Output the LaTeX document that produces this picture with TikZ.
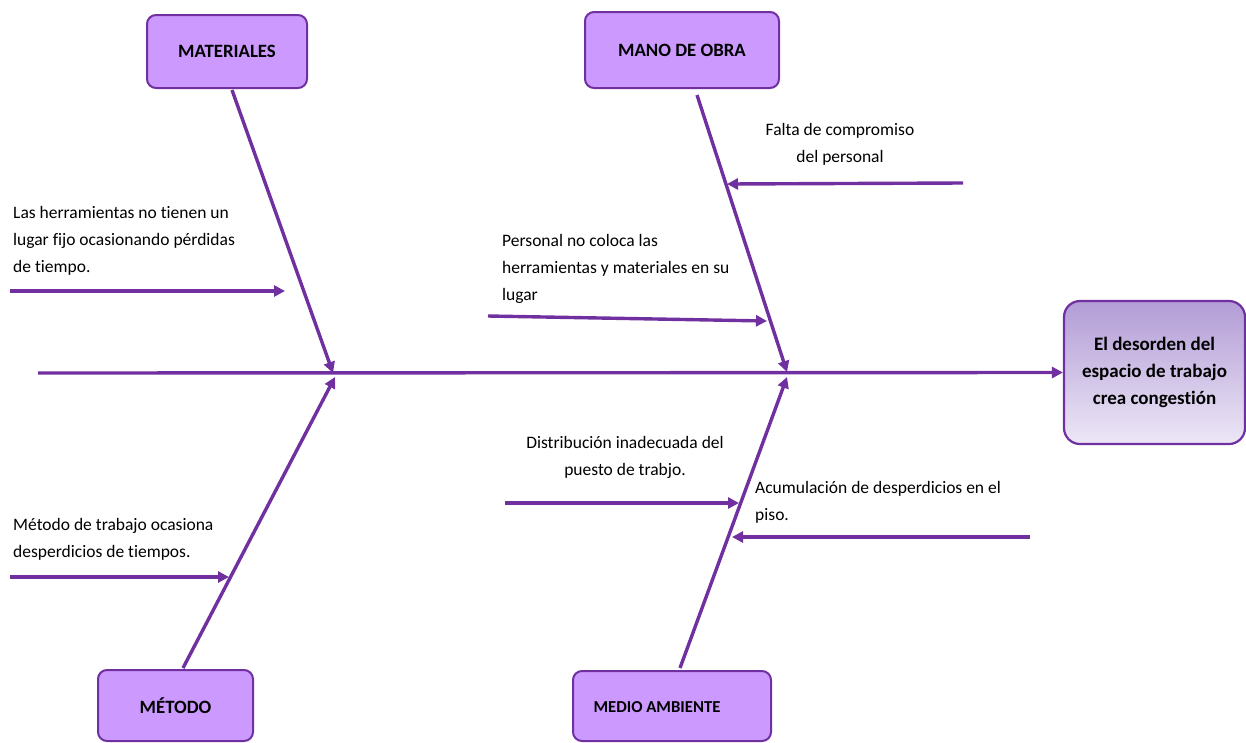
\documentclass[tikz,border=0pt]{standalone}
\usepackage{fontspec}
\setmainfont[Ligatures=NoCommon]{Carlito}
\usetikzlibrary{arrows.meta}
\definecolor{fishpurple}{HTML}{7030A0}
\definecolor{catfill}{HTML}{CC99FF}
\definecolor{efftop}{RGB}{178,156,214}
\definecolor{effbottom}{RGB}{237,231,246}
\begin{document}
\begin{tikzpicture}[x=1pt,y=-1pt,
  boneline/.style={draw=fishpurple,line width=3.4pt,-{Triangle[length=11pt,width=11pt]}},
  catbox/.style={draw=fishpurple,line width=2pt,fill=catfill,rounded corners=9pt,
    font=\fontsize{18.8}{22}\selectfont\bfseries,inner sep=0pt},
  effbox/.style={draw=fishpurple,line width=2.2pt,rounded corners=16pt,
    top color=efftop,bottom color=effbottom,
    font=\fontsize{19}{27}\selectfont\bfseries,align=center,inner sep=0pt},
  causetext/.style={font=\fontsize{17.5}{27}\selectfont,inner sep=0pt}]
\useasboundingbox (0,0) rectangle (1246,742);

% category boxes
\node[catbox,minimum width=160pt,minimum height=73pt] (mat) at (227,51.5) {MATERIALES};
\node[catbox,minimum width=194pt,minimum height=76pt] (mano) at (682,50) {MANO DE OBRA};
\node[catbox,minimum width=155pt,minimum height=71pt] (met) at (175.5,705.5) {MÉTODO};
\node[catbox,minimum width=198pt,minimum height=70pt] (medio) at (672,706) {};
\node[font=\fontsize{16.7}{20}\selectfont\bfseries,inner sep=0pt] (medioLbl) at (657,707) {MEDIO AMBIENTE};

% effect
\node[effbox,minimum width=181pt,minimum height=143pt] (eff) at (1154.5,372.5)
  {El desorden del\\espacio de trabajo\\crea congestión};

% spine
\coordinate (tail) at (38,373);
\draw[boneline] (tail) -- (eff.west);

% main bones
\coordinate (matS) at (232,90);   \coordinate (matJ) at (333,373);
\coordinate (manoS) at (697,95);  \coordinate (manoJ) at (787,372);
\coordinate (metS) at (183,668);  \coordinate (metJ) at (335,377);
\coordinate (medS) at (680,668);  \coordinate (medJ) at (787,377);
\draw[boneline] (matS) -- (matJ);
\draw[boneline] (manoS) -- (manoJ);
\draw[boneline] (metS) -- (metJ);
\draw[boneline] (medS) -- (medJ);

% causes: MATERIALES
\node[causetext,anchor=north west,align=left] (c1) at (13,206)
  {Las herramientas no tienen un\\lugar fijo ocasionando pérdidas\\de tiempo.};
\coordinate (c1s) at (10,291); \coordinate (c1e) at (285,291);
\draw[boneline] (c1s) -- (c1e);

% causes: MANO DE OBRA
\node[causetext,anchor=north,align=center] (c2) at (840,123)
  {Falta de compromiso\\del personal};
\coordinate (c2s) at (963,183); \coordinate (c2e) at (727,184);
\draw[boneline] (c2s) -- (c2e);

\node[causetext,anchor=north west,align=left] (c3) at (502,234)
  {Personal no coloca las\\herramientas y materiales en su\\lugar};
\coordinate (c3s) at (488,316); \coordinate (c3e) at (767,321);
\draw[boneline] (c3s) -- (c3e);

% causes: MÉTODO
\node[causetext,anchor=north west,align=left] (c4) at (13,518)
  {Método de trabajo ocasiona\\desperdicios de tiempos.};
\coordinate (c4s) at (10,577); \coordinate (c4e) at (229,577);
\draw[boneline] (c4s) -- (c4e);

% causes: MEDIO AMBIENTE
\node[causetext,anchor=north,align=center] (c5) at (625,436)
  {Distribución inadecuada del\\puesto de trabjo.};
\coordinate (c5s) at (505,503); \coordinate (c5e) at (739,503);
\draw[boneline] (c5s) -- (c5e);

\node[causetext,anchor=north west,align=left] (c6) at (755,481)
  {Acumulación de desperdicios en el\\piso.};
\coordinate (c6s) at (1030,537); \coordinate (c6e) at (732,537);
\draw[boneline] (c6s) -- (c6e);
\end{tikzpicture}
\end{document}
